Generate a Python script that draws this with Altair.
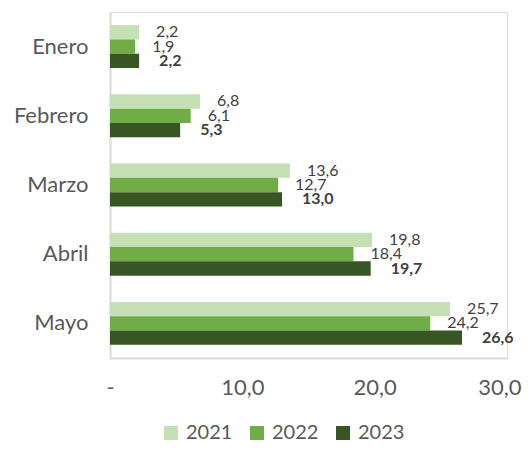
import altair as alt
import pandas as pd

months = ["Enero", "Febrero", "Marzo", "Abril", "Mayo\u00a0"]
years = ["2021", "2022", "2023"]
v2021 = [2.2, 6.8, 13.6, 19.8, 25.7]
v2022 = [1.9, 6.1, 12.7, 18.4, 24.2]
v2023 = [2.2, 5.3, 13.0, 19.7, 26.6]
colors = ["#C5E0B4", "#70AD47", "#375623"]
x_ticks = [0, 10, 20, 30]

rows = []
for y, vals in zip(years, [v2021, v2022, v2023]):
    for m, v in zip(months, vals):
        rows.append({"mes": m, "anio": y, "valor": v,
                     "etiqueta": f"{v:.1f}".replace(".", ",")})
df = pd.DataFrame(rows)

FONT = "Lato"
GRAY = "#595959"

x_enc = alt.X("valor:Q",
              scale=alt.Scale(domain=[0, 30], nice=False, zero=True),
              axis=alt.Axis(values=x_ticks, title=None, grid=False, ticks=False, tickSize=0,
                            labelExpr="datum.value == 0 ? '-' : replace(format(datum.value, '.1f'), '.', ',')",
                            labelFontSize=22, labelColor=GRAY, labelFont=FONT, labelPadding=19,
                            labelAlign={"condition": {"test": "datum.value == 30", "value": "right"}, "value": "center"},
                            labelOffset={"condition": {"test": "datum.value == 30", "value": 14}, "value": 0},
                            domainColor="#D9D9D9", domainWidth=2, labelFlush=False))
y_enc = alt.Y("mes:N", sort=months,
              scale=alt.Scale(paddingInner=0.38, paddingOuter=0.19),
              axis=alt.Axis(title=None, ticks=False, tickSize=0, labelFontSize=22,
                            labelColor=GRAY, labelFont=FONT, labelPadding=22,
                            domainColor="#D9D9D9", domainWidth=2))
yoff = alt.YOffset("anio:N", sort=years, scale=alt.Scale(paddingInner=0, paddingOuter=0))

bars = alt.Chart(df).mark_bar().encode(
    x=x_enc, y=y_enc, yOffset=yoff,
    color=alt.Color("anio:N", sort=years,
                    scale=alt.Scale(domain=years, range=colors),
                    legend=alt.Legend(title=None, orient="none", direction="horizontal",
                                      legendX=51, legendY=411, symbolType="square",
                                      symbolSize=196, symbolStrokeWidth=0, labelFontSize=20,
                                      labelFont=FONT, labelColor=GRAY, labelOffset=5,
                                      columnPadding=14, padding=0, symbolOpacity=1)),
)

text_norm = alt.Chart(df).transform_filter("datum.anio != '2023'").mark_text(
    align="left", baseline="middle", dx=17, fontSize=16, font=FONT, color="#404040"
).encode(x="valor:Q", y=alt.Y("mes:N", sort=months), yOffset=yoff, text="etiqueta:N")

text_bold = alt.Chart(df).transform_filter("datum.anio == '2023'").mark_text(
    align="left", baseline="middle", dx=20, fontSize=16, font=FONT, color="#404040",
    fontWeight="bold"
).encode(x="valor:Q", y=alt.Y("mes:N", sort=months), yOffset=yoff, text="etiqueta:N")

chart = alt.layer(bars, text_norm, text_bold).properties(
    width=397, height=346,
    autosize=alt.AutoSizeParams(type="none"),
    padding={"left": 102, "top": 4, "right": 15, "bottom": 85},
).configure_view(stroke=None).configure(font=FONT)

chart.save("out.html", embed_options={"renderer": "svg", "actions": False})
